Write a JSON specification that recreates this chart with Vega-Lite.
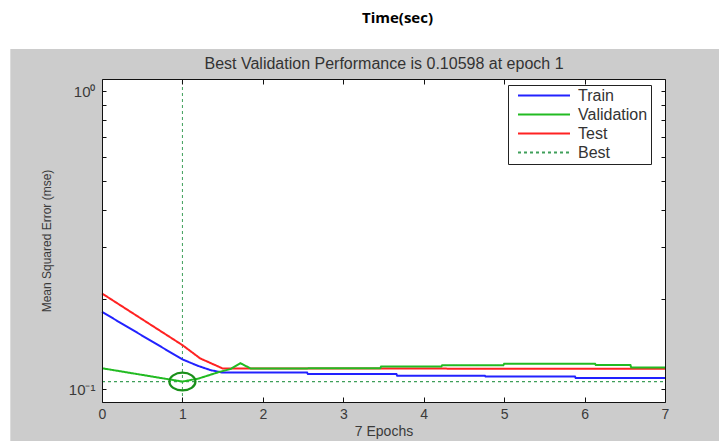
{
  "$schema": "https://vega.github.io/schema/vega-lite/v6.json",
  "width": 563,
  "height": 323,
  "autosize": {"type": "none"},
  "padding": {"left": 102, "top": 79, "right": 54, "bottom": 39},
  "background": "white",
  "title": {"text": "Time(sec)", "font": "Open Sans", "fontSize": 15, "fontWeight": "bold", "color": "#000000", "anchor": "middle", "dx": 14, "offset": 23},
  "config": {
    "view": {"stroke": null},
    "axis": {"grid": false, "domainColor": "#111111", "domainWidth": 1, "tickColor": "#111111", "tickWidth": 1,
      "labelFont": "Liberation Sans", "labelFontSize": 14, "labelColor": "#3a3a3a",
      "titleFont": "Liberation Sans", "titleFontWeight": "normal", "titleColor": "#3a3a3a"},
    "legend": {"orient": "none", "legendX": 406, "legendY": 6, "fillColor": "white", "strokeColor": "#222222", "padding": 3,
      "symbolType": "stroke", "symbolSize": 2704, "symbolStrokeWidth": 2, "clipHeight": 15, "rowPadding": 2,
      "labelFont": "Liberation Sans", "labelFontSize": 16, "labelColor": "#333333", "labelOffset": 7, "symbolOffset": 6}
  },
  "datasets": {
    "bg": [{"x": -1.14, "x2": 7.8, "y": 0.06, "y2": 1.3873}],
    "plot": [{"x": 0, "x2": 7, "y": 0.0905, "y2": 1.1}],
    "bestV": [{"series": "Best", "x": 1, "y": 0.0905, "y2": 1.1}],
    "bestH": [{"series": "Best", "x": 0, "x2": 7, "y": 0.10598}],
    "bestPt": [{"epoch": 1, "mse": 0.10598}],
    "perf": [
      {"series": "Train", "epoch": 0, "mse": 0.1817},
      {"series": "Train", "epoch": 1, "mse": 0.1258},
      {"series": "Train", "epoch": 1.2, "mse": 0.1195},
      {"series": "Train", "epoch": 1.35, "mse": 0.1158},
      {"series": "Train", "epoch": 1.5, "mse": 0.1136},
      {"series": "Train", "epoch": 2.55, "mse": 0.1136},
      {"series": "Train", "epoch": 2.56, "mse": 0.1124},
      {"series": "Train", "epoch": 3.66, "mse": 0.1124},
      {"series": "Train", "epoch": 3.67, "mse": 0.1109},
      {"series": "Train", "epoch": 4.76, "mse": 0.1109},
      {"series": "Train", "epoch": 4.77, "mse": 0.1102},
      {"series": "Train", "epoch": 5.88, "mse": 0.1102},
      {"series": "Train", "epoch": 5.89, "mse": 0.1089},
      {"series": "Train", "epoch": 7, "mse": 0.1089},
      {"series": "Test", "epoch": 0, "mse": 0.2095},
      {"series": "Test", "epoch": 1, "mse": 0.1405},
      {"series": "Test", "epoch": 1.22, "mse": 0.1268},
      {"series": "Test", "epoch": 1.5, "mse": 0.1173},
      {"series": "Test", "epoch": 7, "mse": 0.117},
      {"series": "Validation", "epoch": 0, "mse": 0.1175},
      {"series": "Validation", "epoch": 1, "mse": 0.10598},
      {"series": "Validation", "epoch": 1.2, "mse": 0.1085},
      {"series": "Validation", "epoch": 1.45, "mse": 0.114},
      {"series": "Validation", "epoch": 1.6, "mse": 0.1168},
      {"series": "Validation", "epoch": 1.72, "mse": 0.1222},
      {"series": "Validation", "epoch": 1.85, "mse": 0.1172},
      {"series": "Validation", "epoch": 3.46, "mse": 0.1176},
      {"series": "Validation", "epoch": 3.47, "mse": 0.119},
      {"series": "Validation", "epoch": 4.22, "mse": 0.119},
      {"series": "Validation", "epoch": 4.23, "mse": 0.1203},
      {"series": "Validation", "epoch": 4.99, "mse": 0.1203},
      {"series": "Validation", "epoch": 5.0, "mse": 0.1216},
      {"series": "Validation", "epoch": 6.13, "mse": 0.1216},
      {"series": "Validation", "epoch": 6.14, "mse": 0.1204},
      {"series": "Validation", "epoch": 6.57, "mse": 0.1204},
      {"series": "Validation", "epoch": 6.58, "mse": 0.1182},
      {"series": "Validation", "epoch": 7, "mse": 0.1182}
    ]
  },
  "resolve": {"axis": {"x": "independent", "y": "independent"}},
  "layer": [
    {
      "data": {"name": "bg"},
      "mark": {"type": "rect", "color": "#cccccc"},
      "encoding": {
        "x": {"field": "x", "type": "quantitative", "scale": {"domain": [0, 7], "nice": false, "zero": false}, "axis": null},
        "x2": {"field": "x2"},
        "y": {"field": "y", "type": "quantitative", "scale": {"type": "log", "domain": [0.0905, 1.1], "nice": false}, "axis": null},
        "y2": {"field": "y2"}
      }
    },
    {
      "data": {"name": "plot"},
      "mark": {"type": "rect", "color": "#ffffff"},
      "encoding": {
        "x": {"field": "x", "type": "quantitative", "axis": null},
        "x2": {"field": "x2"},
        "y": {"field": "y", "type": "quantitative", "axis": null},
        "y2": {"field": "y2"}
      }
    },
    {
      "data": {"name": "bestV"},
      "mark": {"type": "rule", "strokeWidth": 1},
      "encoding": {
        "x": {"field": "x", "type": "quantitative", "axis": null},
        "y": {"field": "y", "type": "quantitative", "axis": null},
        "y2": {"field": "y2"},
        "color": {"field": "series", "type": "nominal", "scale": {"domain": ["Train", "Validation", "Test", "Best"], "range": ["#2222ff", "#22bb22", "#ff2222", "#3f9f5a"]}, "legend": {"title": null}},
        "strokeDash": {"field": "series", "type": "nominal", "scale": {"domain": ["Train", "Validation", "Test", "Best"], "range": [[1, 0], [1, 0], [1, 0], [3, 3]]}, "legend": {"title": null}}
      }
    },
    {
      "data": {"name": "bestH"},
      "mark": {"type": "rule", "strokeWidth": 1.3},
      "encoding": {
        "x": {"field": "x", "type": "quantitative", "axis": null},
        "x2": {"field": "x2"},
        "y": {"field": "y", "type": "quantitative", "axis": null},
        "color": {"field": "series", "type": "nominal", "legend": {"title": null}},
        "strokeDash": {"field": "series", "type": "nominal", "legend": {"title": null}}
      }
    },
    {
      "data": {"name": "perf"},
      "mark": {"type": "line", "strokeWidth": 2},
      "encoding": {
        "x": {"field": "epoch", "type": "quantitative",
          "axis": {"orient": "bottom", "zindex": 1, "values": [0, 1, 2, 3, 4, 5, 6, 7], "format": "d", "labelFlush": false, "tickSize": -5, "labelPadding": 10, "title": "7 Epochs", "titleFontSize": 14, "titlePadding": 3}},
        "y": {"field": "mse", "type": "quantitative",
          "axis": {"orient": "left", "zindex": 1, "values": [0.1, 0.2, 0.3, 0.4, 0.5, 0.6, 0.7, 0.8, 0.9, 1], "labelExpr": "datum.value == 1 ? '10⁰' : (abs(datum.value - 0.1) < 1e-9 ? '10⁻¹' : '')", "labelFontSize": 15, "labelFlush": false, "tickSize": -4, "labelPadding": 11, "title": "Mean Squared Error  (mse)", "titleFontSize": 12, "titlePadding": 15}},
        "color": {"field": "series", "type": "nominal", "legend": {"title": null}},
        "strokeDash": {"field": "series", "type": "nominal", "legend": {"title": null}}
      }
    },
    {
      "data": {"name": "bestPt"},
      "mark": {"type": "point", "shape": "M -1 0 A 1 0.68 0 1 0 1 0 A 1 0.68 0 1 0 -1 0 Z", "size": 680, "filled": false, "stroke": "#1a8f1a", "strokeWidth": 2.2, "opacity": 1},
      "encoding": {
        "x": {"field": "epoch", "type": "quantitative",
          "axis": {"orient": "top", "zindex": 1, "values": [0, 1, 2, 3, 4, 5, 6, 7], "labels": false, "tickSize": -5, "title": "Best Validation Performance is 0.10598 at epoch 1", "titleFontSize": 16, "titleColor": "#333333", "titlePadding": 7}},
        "y": {"field": "mse", "type": "quantitative",
          "axis": {"orient": "right", "zindex": 1, "values": [0.1, 0.2, 0.3, 0.4, 0.5, 0.6, 0.7, 0.8, 0.9, 1], "labels": false, "tickSize": -4, "title": null}}
      }
    }
  ]
}
